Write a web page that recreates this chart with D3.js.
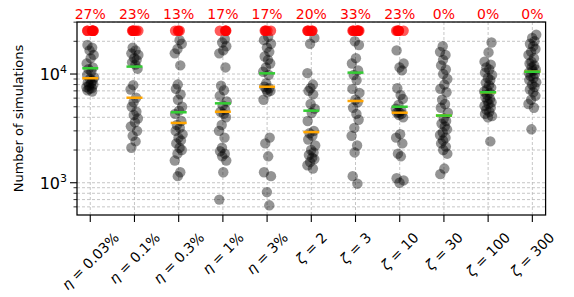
<!DOCTYPE html>
<html>
<head>
<meta charset="utf-8">
<script src="https://cdn.jsdelivr.net/npm/d3@7"></script>
<style>
  body { margin: 0; background: #fff; }
  svg { display: block; font-family: "DejaVu Sans", sans-serif; }
</style>
</head>
<body>
<svg id="chart" width="574" height="297"></svg>
<script>
// settings along the x axis: greek symbol + value
const symbols = ["η", "η", "η", "η", "η", "ζ", "ζ", "ζ", "ζ", "ζ", "ζ"];
const settings = ["0.03%", "0.1%", "0.3%", "1%", "3%", "2", "3", "10", "30", "100", "300"];

// runs that hit the simulation cap (drawn in red at the top)
const failedCounts = [8, 7, 4, 5, 5, 6, 10, 7, 0, 0, 0];
const capValue = 25000;

// simulations needed by each successful run
const eta003 = [18500, 17500, 16500, 15000, 14000, 12500, 11500, 11100, 10500, 9800, 9300, 9000, 8700, 8400, 8200, 8000, 7800, 7600, 7400, 7300, 7100, 6900];
const eta01 = [17500, 16500, 15500, 15000, 14000, 13500, 12800, 12200, 11200, 7900, 7200, 6050, 5500, 5000, 4500, 4200, 3900, 3600, 3300, 3000, 2700, 2400, 2100];
const eta03 = [20500, 19000, 17000, 15500, 12000, 8000, 7300, 6500, 5800, 5000, 4600, 4300, 3700, 3400, 3200, 3000, 2800, 2600, 2450, 2300, 2100, 2000, 1850, 1600, 1250, 1150];
const eta1 = [21000, 19500, 18000, 16500, 15500, 11500, 7800, 7100, 6300, 5600, 5150, 4700, 4500, 4300, 4000, 3400, 3000, 2600, 2100, 1950, 1850, 1750, 1600, 1250, 700];
const eta3 = [22000, 20500, 19000, 17500, 16000, 14500, 13500, 12500, 11500, 10500, 9800, 8200, 7640, 7400, 7200, 7000, 6800, 5800, 2600, 2300, 1750, 1250, 1150, 820, 620];
const zeta2 = [21500, 19000, 10200, 8000, 7400, 7000, 6500, 5300, 4800, 4400, 3700, 3000, 2850, 2700, 2500, 2200, 2000, 1900, 1800, 1700, 1650, 1550, 1450, 1350];
const zeta3 = [20000, 18500, 14000, 12500, 10800, 9800, 8800, 7300, 6700, 5800, 5500, 4900, 4300, 3800, 3200, 2700, 2200, 1900, 1150, 980];
const zeta10 = [16500, 12500, 11500, 10800, 7400, 6400, 5900, 5200, 4800, 4600, 4450, 4410, 4300, 4200, 4000, 2800, 2600, 2300, 1850, 1750, 1100, 1050, 1000];
const zeta30 = [18000, 16000, 15000, 13500, 12000, 11000, 10000, 9000, 8000, 7300, 6800, 5800, 5300, 4900, 4400, 3900, 3700, 3500, 3300, 3100, 2900, 2750, 2600, 2450, 2300, 2150, 2000, 1850, 1350, 1200];
const zeta100 = [19500, 15800, 13000, 12200, 11500, 11000, 10300, 9800, 9200, 8800, 8300, 7900, 7500, 7200, 6900, 6700, 6400, 6100, 5900, 5700, 5500, 5300, 5100, 4900, 4700, 4500, 4300, 4100, 4000, 2400];
const zeta300 = [23000, 21500, 20000, 19000, 18000, 17000, 16000, 15000, 14000, 13000, 12500, 12000, 11500, 11000, 10700, 10300, 10000, 9600, 9200, 8800, 8400, 8000, 7600, 7200, 6800, 6300, 5800, 5300, 4900, 3100];
const successes = [eta003, eta01, eta03, eta1, eta3, zeta2, zeta3, zeta10, zeta30, zeta100, zeta300];

const yTickValues = [1e3, 1e4];

// fixed horizontal spread so points don't sit on top of each other
const jitter = [-2.8, 1.9, -0.7, 3.4, 0.4, -3.6, 2.6, -1.8, 1.1, -3.1, 3.9, -0.2, 2.2, -2.4, 0.9, 3.1, -1.2, -3.9, 1.6, -0.9];

const margin = {top: 22, right: 28.4, bottom: 82, left: 77};
const width = 574 - margin.left - margin.right;
const height = 297 - margin.top - margin.bottom;

const svg = d3.select("#chart");
const g = svg.append("g").attr("transform", `translate(${margin.left},${margin.top})`);

const x = d3.scalePoint()
    .domain(d3.range(settings.length))
    .range([0, width])
    .padding(0.3);

const y = d3.scaleLog()
    .domain([505, 30100])
    .range([height, 0]);

// every log tick (major + minor) inside the domain
const allYTicks = y.ticks().filter(d => d >= 505 && d <= 30100);

// grid
g.append("g").selectAll("line")
    .data(allYTicks)
    .join("line")
    .attr("x1", 0).attr("x2", width)
    .attr("y1", d => y(d)).attr("y2", d => y(d))
    .attr("stroke", "#b8b8b8")
    .attr("stroke-width", 0.8)
    .attr("stroke-dasharray", "3,2");

g.append("g").selectAll("line")
    .data(x.domain())
    .join("line")
    .attr("x1", d => x(d)).attr("x2", d => x(d))
    .attr("y1", 0).attr("y2", height)
    .attr("stroke", "#b8b8b8")
    .attr("stroke-width", 0.8)
    .attr("stroke-dasharray", "3,2");

// points
const points = [];
const failPoints = [];
successes.forEach((vals, i) => {
    vals.forEach((v, j) => points.push({i: i, v: v, dx: jitter[(j + i * 7) % jitter.length]}));
    for (let k = 0; k < failedCounts[i]; k++) {
        failPoints.push({i: i, v: capValue, dx: jitter[(k * 3 + i) % jitter.length]});
    }
});

g.append("g").selectAll("circle")
    .data(points)
    .join("circle")
    .attr("cx", d => x(d.i) + d.dx)
    .attr("cy", d => y(d.v))
    .attr("r", 5.2)
    .attr("fill", "#000")
    .attr("fill-opacity", 0.42);

g.append("g").selectAll("circle")
    .data(failPoints)
    .join("circle")
    .attr("cx", d => x(d.i) + d.dx)
    .attr("cy", d => y(d.v))
    .attr("r", 5.2)
    .attr("fill", "red")
    .attr("fill-opacity", 0.65);

// medians: orange = successful runs only, green = all runs (failures at the cap)
const medOk = successes.map(vals => d3.median(vals));
const medAll = successes.map((vals, i) => d3.median(vals.concat(d3.range(failedCounts[i]).map(() => capValue))));

g.append("g").selectAll("line")
    .data(medOk)
    .join("line")
    .attr("x1", (d, i) => x(i) - 8).attr("x2", (d, i) => x(i) + 8)
    .attr("y1", d => y(d)).attr("y2", d => y(d))
    .attr("stroke", "orange")
    .attr("stroke-width", 2.5);

g.append("g").selectAll("line")
    .data(medAll)
    .join("line")
    .attr("x1", (d, i) => x(i) - 8).attr("x2", (d, i) => x(i) + 8)
    .attr("y1", d => y(d)).attr("y2", d => y(d))
    .attr("stroke", "#33cc33")
    .attr("stroke-width", 2.5);

// frame
g.append("rect")
    .attr("width", width).attr("height", height)
    .attr("fill", "none")
    .attr("stroke", "#000")
    .attr("stroke-width", 1.25);

// y ticks
g.append("g").selectAll("line")
    .data(allYTicks)
    .join("line")
    .attr("x1", d => yTickValues.includes(d) ? -7 : -3.5).attr("x2", 0)
    .attr("y1", d => y(d)).attr("y2", d => y(d))
    .attr("stroke", "#000")
    .attr("stroke-width", d => yTickValues.includes(d) ? 1.1 : 0.8);

const yLab = g.append("g").selectAll("text")
    .data(yTickValues)
    .join("text")
    .attr("x", -10)
    .attr("y", d => y(d) + 6)
    .attr("text-anchor", "end")
    .attr("font-size", 16);
yLab.append("tspan").text("10");
yLab.append("tspan").attr("dy", -7).attr("font-size", 11).text(d => Math.round(Math.log10(d)));

svg.append("text")
    .attr("transform", `translate(23,${margin.top + height / 2}) rotate(-90)`)
    .attr("text-anchor", "middle")
    .attr("font-size", 13)
    .text("Number of simulations");

// x ticks
g.append("g").selectAll("line")
    .data(x.domain())
    .join("line")
    .attr("x1", d => x(d)).attr("x2", d => x(d))
    .attr("y1", height).attr("y2", height + 7)
    .attr("stroke", "#000")
    .attr("stroke-width", 1.1);

const xLab = g.append("g").selectAll("text")
    .data(x.domain())
    .join("text")
    .attr("text-anchor", "middle")
    .attr("dominant-baseline", "central")
    .attr("font-size", 14);
xLab.append("tspan").attr("font-style", "italic").text(d => symbols[d]);
xLab.append("tspan").text(d => " = " + settings[d]);
xLab.attr("transform", function(d) {
    const w = this.getComputedTextLength();
    const boxH = (w + 14) * Math.SQRT1_2;
    return `translate(${x(d)},${height + 15 + boxH / 2}) rotate(-45)`;
});

// failure percentages above the plot
g.append("g").selectAll("text")
    .data(failedCounts)
    .join("text")
    .attr("x", (d, i) => x(i))
    .attr("y", -3)
    .attr("text-anchor", "middle")
    .attr("font-size", 14)
    .attr("fill", "red")
    .text((d, i) => Math.round(100 * d / (d + successes[i].length)) + "%");
</script>
</body>
</html>
